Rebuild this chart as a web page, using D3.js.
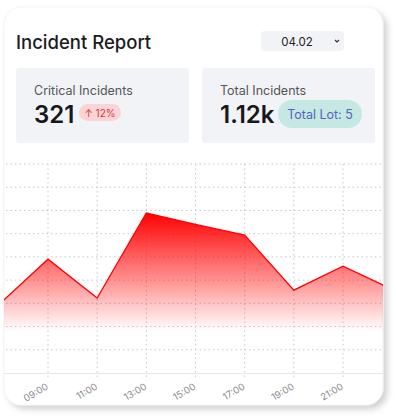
<!DOCTYPE html>
<html>
<head>
<meta charset="utf-8">
<script src="https://cdn.jsdelivr.net/npm/d3@7"></script>
<style>
  body { margin: 0; background: #fff; font-family: Inter, "Noto Sans", sans-serif; }
</style>
</head>
<body>
<svg id="chart" width="396" height="417"></svg>
<script>
// chart data
var hours = ["07:00", "09:00", "11:00", "13:00", "15:00", "17:00", "19:00", "21:00", "23:00"];
var incidents = [29.4, 49, 32.3, 68.9, 64, 59.4, 35.7, 46, 36];
var tickLabels = ["09:00", "11:00", "13:00", "15:00", "17:00", "19:00", "21:00"];
var yTicks = [10, 20, 30, 40, 50, 60, 70, 80, 90];

var svg = d3.select("#chart");
var defs = svg.append("defs");

var shadow = defs.append("filter").attr("id", "shadow")
  .attr("x", "-10%").attr("y", "-10%").attr("width", "130%").attr("height", "130%");
shadow.append("feDropShadow")
  .attr("dx", 4).attr("dy", 4).attr("stdDeviation", 3)
  .attr("flood-color", "#000").attr("flood-opacity", 0.18);

defs.append("clipPath").attr("id", "cardClip")
  .append("rect").attr("x", 4).attr("y", 7).attr("width", 379).attr("height", 398).attr("rx", 17);

// card
svg.append("rect")
  .attr("x", 4).attr("y", 7).attr("width", 379).attr("height", 398).attr("rx", 17)
  .attr("fill", "#fff").attr("stroke", "#ececec").attr("stroke-width", 0.6)
  .attr("filter", "url(#shadow)");

svg.append("text").attr("x", 16).attr("y", 49)
  .attr("font-size", 18.5).attr("font-weight", 500).attr("fill", "#1b1b1f")
  .text("Incident Report");

// dropdown
svg.append("rect").attr("x", 261).attr("y", 31).attr("width", 83).attr("height", 20).attr("rx", 4)
  .attr("fill", "#f2f3f7");
svg.append("text").attr("x", 297).attr("y", 45.5).attr("text-anchor", "middle")
  .attr("font-size", 11.5).attr("fill", "#222").text("04.02");
svg.append("path").attr("d", "M335,40 L337,42 L339,40")
  .attr("fill", "none").attr("stroke", "#333").attr("stroke-width", 1.2);

// stat boxes
function statBox(x, label, value) {
  svg.append("rect").attr("x", x).attr("y", 68).attr("width", 173).attr("height", 75).attr("rx", 3)
    .attr("fill", "#f2f3f7");
  svg.append("text").attr("x", x + 18).attr("y", 95)
    .attr("font-size", 12.5).attr("fill", "#555").text(label);
  return svg.append("text").attr("x", x + 18).attr("y", 123)
    .attr("font-size", 24).attr("font-weight", 600).attr("fill", "#17171c").text(value);
}
statBox(16, "Critical Incidents", "321");
statBox(202, "Total Incidents", "1.12k");

svg.append("rect").attr("x", 79).attr("y", 104).attr("width", 42).attr("height", 17).attr("rx", 8.5)
  .attr("fill", "#fcd4d6");
svg.append("text").attr("x", 100).attr("y", 116.5).attr("text-anchor", "middle")
  .attr("font-size", 10).attr("fill", "#d8333d").text("\u2191 12%");

svg.append("rect").attr("x", 278).attr("y", 100).attr("width", 84).attr("height", 28).attr("rx", 14)
  .attr("fill", "#c6e8e2");
svg.append("text").attr("x", 320).attr("y", 118.5).attr("text-anchor", "middle")
  .attr("font-size", 12.5).attr("fill", "#5661c2").text("Total Lot: 5");

// chart
var parse = d3.timeParse("%H:%M");
var data = hours.map(function(h, i) { return { t: parse(h), v: incidents[i] }; });

var x = d3.scaleTime()
  .domain([parse("09:00"), parse("21:00")])
  .range([48, 343]);
var y = d3.scaleLinear().domain([0, 90]).range([373, 164]);

var g = svg.append("g").attr("clip-path", "url(#cardClip)");

var grad = defs.append("linearGradient").attr("id", "fillGrad")
  .attr("gradientUnits", "userSpaceOnUse")
  .attr("x1", 0).attr("x2", 0).attr("y1", y(69)).attr("y2", y(18));
grad.append("stop").attr("offset", 0).attr("stop-color", "#ff0000").attr("stop-opacity", 1);
grad.append("stop").attr("offset", 1).attr("stop-color", "#ff0000").attr("stop-opacity", 0);

// grid
g.selectAll(".hgrid").data(yTicks).enter().append("line")
  .attr("x1", 6).attr("x2", 381)
  .attr("y1", function(d) { return y(d); }).attr("y2", function(d) { return y(d); })
  .attr("stroke", "#c8c8c8").attr("stroke-width", 1).attr("stroke-dasharray", "1.5,3");

g.selectAll(".vgrid").data(tickLabels).enter().append("line")
  .attr("x1", function(d) { return x(parse(d)); }).attr("x2", function(d) { return x(parse(d)); })
  .attr("y1", y(90)).attr("y2", y(0) + 6)
  .attr("stroke", "#c8c8c8").attr("stroke-width", 1).attr("stroke-dasharray", "1.5,3");

var area = d3.area()
  .x(function(d) { return x(d.t); })
  .y0(y(0))
  .y1(function(d) { return y(d.v); });

var line = d3.line()
  .x(function(d) { return x(d.t); })
  .y(function(d) { return y(d.v); });

g.append("path").datum(data).attr("d", area).attr("fill", "url(#fillGrad)");
g.append("path").datum(data).attr("d", line)
  .attr("fill", "none").attr("stroke", "#ff0000").attr("stroke-width", 1.3)
  .attr("stroke-linejoin", "miter");

// x axis
var xAxis = g.append("g").attr("transform", "translate(0," + y(0) + ")")
  .call(d3.axisBottom(x)
    .tickValues(tickLabels.map(parse))
    .tickFormat(d3.timeFormat("%H:%M"))
    .tickSize(0));
xAxis.select(".domain").remove();
xAxis.append("line").attr("x1", 4).attr("x2", 383).attr("y1", 0.5).attr("y2", 0.5)
  .attr("stroke", "#e6e6e6").attr("stroke-width", 1.2);
xAxis.selectAll("text")
  .attr("font-family", "Inter, 'Noto Sans', sans-serif")
  .attr("font-size", 9.5).attr("fill", "#8a8a8e")
  .attr("text-anchor", "end")
  .attr("dy", 0)
  .attr("transform", "translate(-1,13) rotate(-30)");
</script>
</body>
</html>
